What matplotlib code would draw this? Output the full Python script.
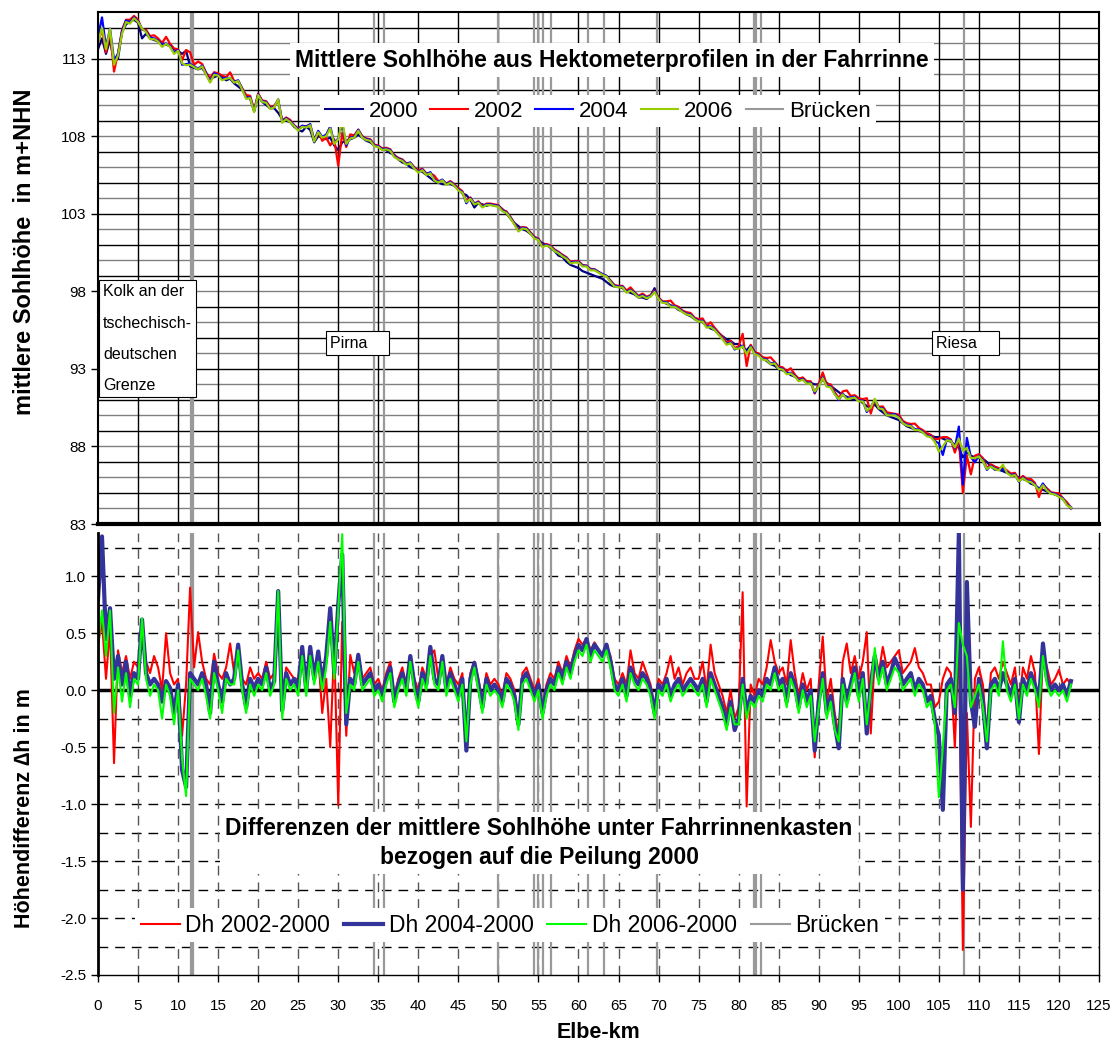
import numpy as np
import matplotlib
matplotlib.use("Agg")
import matplotlib.pyplot as plt
from matplotlib.lines import Line2D

plt.rcParams['font.family'] = ['Liberation Sans', 'DejaVu Sans']
plt.rcParams['axes.unicode_minus'] = False

# Stationierung (km), Schrittweite 0.5 km
km_start = 0.0
km_step = 0.5

# mittlere Sohlhöhe 2000 (m+NHN)
sohle_2000 = [
    113.6, 114.3, 113.3, 114.2, 112.8, 113.0, 114.7, 115.2, 115.4, 115.5,
    115.3, 114.3, 114.6, 114.3, 114.2, 114.1, 114.0, 113.9, 113.8, 113.6,
    113.5, 113.3, 113.5, 112.5, 112.4, 112.3, 112.4, 112.0, 111.7, 111.8,
    111.9, 111.8, 111.6, 111.7, 111.4, 111.2, 111.0, 110.6, 110.4, 109.6,
    110.6, 110.2, 110.0, 109.8, 109.8, 109.5, 109.1, 109.0, 108.9, 108.6,
    108.4, 108.3, 108.6, 108.4, 107.6, 108.0, 107.9, 107.8, 107.9, 107.4,
    107.1, 107.6, 107.7, 107.8, 107.9, 108.1, 107.9, 107.7, 107.6, 107.4,
    107.3, 107.2, 107.1, 106.9, 106.8, 106.5, 106.3, 106.2, 106.0, 105.9,
    105.8, 105.7, 105.5, 105.3, 105.1, 105.0, 104.9, 104.9, 104.9, 104.8,
    104.6, 104.3, 104.2, 103.9, 103.4, 103.7, 103.6, 103.5, 103.6, 103.5,
    103.5, 103.3, 103.0, 102.7, 102.4, 102.2, 102.0, 101.9, 101.7, 101.5,
    101.3, 101.1, 101.0, 100.8, 100.6, 100.3, 100.2, 99.9, 99.7, 99.6,
    99.5, 99.3, 99.2, 99.1, 99.0, 98.9, 98.8, 98.6, 98.4, 98.3,
    98.3, 98.2, 98.0, 97.9, 97.8, 97.6, 97.6, 97.5, 97.7, 98.2,
    97.5, 97.3, 97.2, 97.1, 97.0, 96.8, 96.7, 96.5, 96.4, 96.2,
    96.1, 96.0, 95.8, 95.6, 95.5, 95.3, 95.1, 94.9, 94.8, 94.6,
    94.6, 94.4, 94.2, 94.5, 94.1, 93.9, 93.7, 93.5, 93.3, 93.2,
    93.0, 92.9, 92.8, 92.6, 92.5, 92.4, 92.3, 92.2, 92.1, 92.0,
    92.0, 92.3, 92.1, 91.9, 91.7, 91.5, 91.3, 91.2, 91.1, 91.0,
    91.0, 90.8, 90.6, 90.5, 90.7, 90.4, 90.2, 90.0, 89.9, 89.8,
    89.7, 89.5, 89.3, 89.2, 89.1, 89.0, 88.9, 88.8, 88.7, 88.6,
    88.6, 88.5, 88.4, 88.3, 88.1, 87.9, 87.3, 87.6, 87.4, 87.3,
    87.3, 87.2, 87.0, 86.7, 86.5, 86.5, 86.4, 86.3, 86.2, 86.1,
    86.0, 85.9, 85.8, 85.6, 85.5, 85.3, 85.2, 85.1, 85.0, 84.9,
    84.8, 84.6, 84.3, 84.0,
]

# Differenzen zur Peilung 2000 (m)
dh_2002 = [
    0.40, 0.60, 0.10, 0.55, -0.64, 0.35, 0.15, 0.30, 0.10, 0.25,
    0.20, 0.55, 0.25, 0.15, 0.30, 0.20, 0.00, 0.50, 0.15, 0.05,
    0.10, -0.40, 0.05, 0.90, 0.20, 0.51, 0.25, 0.10, 0.05, 0.32,
    0.15, 0.10, 0.20, 0.41, 0.15, 0.35, 0.10, 0.05, 0.20, 0.10,
    0.15, 0.10, 0.25, 0.10, 0.15, 0.80, -0.10, 0.20, 0.15, 0.10,
    0.10, 0.35, 0.05, 0.30, 0.15, 0.30, -0.20, 0.10, -0.50, 0.40,
    -1.01, 0.60, -0.40, 0.31, 0.15, 0.32, 0.10, 0.15, 0.20, 0.05,
    0.10, 0.00, 0.15, 0.25, -0.05, 0.10, 0.20, 0.05, 0.29, 0.10,
    0.00, 0.20, 0.10, 0.30, 0.35, 0.10, 0.25, 0.05, 0.20, 0.10,
    0.05, 0.15, -0.40, 0.15, 0.25, 0.10, -0.10, 0.15, 0.05, 0.10,
    0.05, -0.05, 0.15, 0.10, 0.00, -0.25, 0.15, 0.20, 0.10, 0.00,
    0.10, -0.15, 0.05, 0.15, 0.10, 0.25, 0.15, 0.30, 0.20, 0.35,
    0.45, 0.40, 0.45, 0.35, 0.42, 0.35, 0.30, 0.38, 0.30, 0.10,
    0.05, 0.15, 0.05, 0.35, 0.15, 0.10, 0.25, 0.15, 0.05, -0.15,
    0.10, 0.05, 0.15, 0.30, 0.10, 0.20, 0.05, 0.15, 0.20, 0.10,
    0.10, 0.25, 0.00, 0.40, 0.15, 0.05, -0.05, -0.20, 0.00, -0.25,
    -0.15, 0.86, -1.02, 0.05, -0.05, 0.10, 0.05, 0.20, 0.44, 0.25,
    0.15, 0.20, 0.05, 0.44, 0.15, -0.05, 0.15, 0.00, 0.10, -0.59,
    0.05, 0.47, -0.10, 0.10, -0.20, -0.40, 0.25, 0.41, 0.15, 0.30,
    0.10, 0.25, 0.51, -0.38, 0.30, 0.15, 0.38, 0.20, 0.25, 0.30,
    0.35, 0.15, 0.20, 0.25, 0.37, 0.20, 0.15, 0.05, 0.05, -0.15,
    -0.10, 0.10, 0.20, 0.15, -0.50, 0.50, -2.28, -0.20, -1.20, 0.10,
    0.20, 0.05, -0.40, 0.15, 0.20, 0.10, 0.25, 0.15, 0.05, 0.20,
    -0.15, 0.20, 0.10, 0.30, 0.15, -0.56, 0.35, 0.20, 0.05, 0.10,
    0.18, 0.05, 0.10, 0.05,
]

dh_2004 = [
    0.80, 1.35, 0.45, 0.72, 0.10, 0.30, 0.05, 0.25, -0.05, 0.15,
    0.10, 0.62, 0.15, 0.05, 0.10, 0.05, -0.10, 0.08, 0.02, -0.20,
    0.05, -0.70, -0.85, 0.15, 0.10, 0.05, 0.15, 0.05, -0.20, 0.25,
    0.05, -0.10, 0.15, 0.05, 0.10, 0.40, 0.05, -0.15, 0.10, 0.02,
    0.10, 0.05, 0.20, 0.00, 0.08, 0.87, -0.18, 0.15, 0.05, 0.10,
    0.02, 0.38, 0.00, 0.38, 0.10, 0.34, 0.05, 0.30, 0.72, 0.15,
    0.75, 1.19, -0.30, 0.10, 0.05, 0.31, 0.05, 0.10, 0.15, 0.00,
    0.05, -0.05, 0.10, 0.20, -0.10, 0.05, 0.15, 0.00, 0.30, 0.05,
    -0.10, 0.15, 0.05, 0.38, 0.10, 0.05, 0.30, 0.00, 0.15, 0.05,
    -0.05, 0.10, -0.53, 0.10, 0.24, 0.05, -0.15, 0.10, 0.00, 0.05,
    0.00, -0.10, 0.10, 0.05, -0.05, -0.30, 0.10, 0.15, 0.05, -0.05,
    0.05, -0.20, 0.00, 0.10, 0.05, 0.20, 0.10, 0.25, 0.15, 0.30,
    0.40, 0.35, 0.45, 0.30, 0.40, 0.35, 0.30, 0.40, 0.25, 0.05,
    0.00, 0.10, -0.05, 0.20, 0.10, 0.05, 0.15, 0.10, 0.00, -0.20,
    0.05, 0.00, 0.10, -0.05, 0.05, 0.10, 0.00, 0.05, 0.10, 0.05,
    0.00, 0.10, -0.10, 0.15, 0.05, -0.05, -0.15, -0.30, -0.10, -0.35,
    -0.25, 0.10, -0.20, -0.05, -0.10, 0.00, -0.05, 0.10, 0.05, 0.20,
    0.05, 0.10, -0.10, 0.15, 0.05, -0.15, 0.05, -0.10, 0.00, -0.53,
    -0.10, 0.15, -0.20, -0.05, -0.30, -0.51, 0.10, -0.10, 0.05, 0.20,
    -0.05, 0.15, -0.38, 0.05, 0.30, 0.10, 0.25, 0.05, 0.15, 0.28,
    0.20, 0.05, 0.10, 0.15, 0.00, 0.10, 0.05, -0.10, -0.05, -0.26,
    -0.40, -1.05, 0.05, 0.10, -0.20, 1.38, -1.75, 0.95, -0.10, -0.32,
    0.10, -0.10, -0.51, 0.05, 0.10, 0.00, 0.15, 0.05, -0.05, 0.10,
    -0.28, 0.10, 0.00, 0.15, 0.05, -0.10, 0.41, 0.10, 0.00, 0.05,
    0.00, 0.05, -0.05, 0.08,
]

dh_2006 = [
    0.40, 0.70, 0.30, 0.70, -0.20, 0.20, -0.10, 0.15, -0.15, 0.10,
    0.05, 0.63, 0.10, -0.05, 0.05, 0.00, -0.25, 0.05, -0.05, -0.30,
    0.00, -0.60, -0.93, 0.10, 0.05, 0.00, 0.10, -0.05, -0.25, 0.15,
    0.00, -0.20, 0.10, 0.05, 0.05, 0.35, 0.00, -0.20, 0.05, -0.05,
    0.05, 0.00, 0.15, -0.05, 0.05, 0.87, -0.25, 0.10, 0.00, 0.05,
    -0.05, 0.30, -0.05, 0.30, 0.05, 0.25, 0.00, 0.20, 0.60, 0.10,
    0.70, 1.37, -0.20, 0.05, 0.00, 0.25, 0.00, 0.05, 0.10, -0.05,
    0.00, -0.10, 0.05, 0.15, -0.15, 0.00, 0.10, -0.05, 0.25, 0.00,
    -0.15, 0.10, 0.00, 0.30, 0.05, 0.00, 0.25, -0.05, 0.10, 0.00,
    -0.10, 0.05, -0.45, 0.05, 0.20, 0.00, -0.20, 0.05, -0.05, 0.00,
    -0.05, -0.15, 0.05, 0.00, -0.10, -0.35, 0.05, 0.10, 0.00, -0.10,
    0.00, -0.25, -0.05, 0.05, 0.00, 0.15, 0.05, 0.20, 0.10, 0.25,
    0.35, 0.30, 0.40, 0.25, 0.35, 0.30, 0.25, 0.35, 0.20, 0.00,
    -0.05, 0.05, -0.10, 0.15, 0.05, 0.00, 0.10, 0.05, -0.05, -0.25,
    0.00, -0.05, 0.05, -0.10, 0.00, 0.05, -0.05, 0.00, 0.05, 0.00,
    -0.05, 0.05, -0.15, 0.10, 0.00, -0.10, -0.20, -0.35, -0.15, -0.30,
    -0.30, 0.05, -0.25, -0.10, -0.15, -0.05, -0.10, 0.05, 0.00, 0.15,
    0.00, 0.05, -0.15, 0.10, 0.00, -0.20, 0.00, -0.15, -0.05, -0.45,
    -0.15, 0.10, -0.25, -0.10, -0.35, -0.45, 0.05, -0.15, 0.00, 0.15,
    -0.10, 0.10, -0.30, 0.00, 0.37, 0.05, 0.20, 0.00, 0.10, 0.20,
    0.15, 0.00, 0.05, 0.10, -0.05, 0.05, 0.00, -0.15, -0.10, -0.30,
    -0.94, -0.50, 0.00, 0.05, -0.15, 0.59, 0.40, 0.30, -0.15, -0.05,
    0.05, -0.15, -0.45, 0.00, 0.05, -0.05, 0.43, 0.00, -0.10, 0.05,
    -0.25, 0.05, -0.05, 0.10, 0.00, -0.15, 0.30, 0.05, -0.05, 0.00,
    -0.05, 0.00, -0.10, 0.05,
]

# Brücken (Elbe-km)
bruecken_km = [11.6, 11.85, 34.5, 35.7, 50.0, 54.5, 55.0, 55.6, 56.6,
               61.2, 63.2, 69.8, 81.9, 82.2, 82.8, 108.2]

km = km_start + km_step * np.arange(len(sohle_2000))
s2000 = np.array(sohle_2000)
s2002 = s2000 + np.array(dh_2002)
s2004 = s2000 + np.array(dh_2004)
s2006 = s2000 + np.array(dh_2006)

W, H = 1116, 1048
fig = plt.figure(figsize=(W / 100, H / 100), dpi=100)
fig.patch.set_facecolor('white')

def box(x0, y0, x1, y1):
    return [x0 / W, 1 - y1 / H, (x1 - x0) / W, (y1 - y0) / H]

ax1 = fig.add_axes(box(98, 12, 1099, 524))
ax2 = fig.add_axes(box(98, 533, 1099, 975))

grau = '#999999'

# ---------- oben: Sohlhöhen ----------
ax1.set_xlim(0, 125)
ax1.set_ylim(83, 116)
for v in range(84, 116):
    ax1.axhline(v, color='black' if v % 2 else '#808080', lw=1, zorder=0)
for x in range(5, 125, 5):
    ax1.axvline(x, color='black', lw=1, zorder=0)
for b in bruecken_km:
    ax1.axvline(b, color=grau, lw=1.6, zorder=1)

ax1.plot(km, s2000, color='#000080', lw=1.6, zorder=2)
ax1.plot(km, s2002, color='#ff0000', lw=1.6, zorder=2)
ax1.plot(km, s2004, color='#0000ff', lw=1.6, zorder=2)
ax1.plot(km, s2006, color='#99cc00', lw=1.6, zorder=2)

ax1.set_yticks(range(83, 114, 5))
ax1.set_xticks([])
ax1.tick_params(axis='y', labelsize=11, length=5, width=1)
for s in ['left', 'top', 'right']:
    ax1.spines[s].set_linewidth(1.5)
ax1.spines['bottom'].set_linewidth(3)

ax1.text(0.5135, 0.906, 'Mittlere Sohlhöhe aus Hektometerprofilen in der Fahrrinne',
         transform=ax1.transAxes, ha='center', va='center', fontsize=16.5,
         fontweight='bold', zorder=5,
         bbox=dict(facecolor='white', edgecolor='none', pad=4))

h_top = [Line2D([], [], color='#000080', lw=1.5),
         Line2D([], [], color='#ff0000', lw=1.5),
         Line2D([], [], color='#0000ff', lw=1.5),
         Line2D([], [], color='#99cc00', lw=1.5),
         Line2D([], [], color=grau, lw=1.5)]
leg1 = ax1.legend(h_top, ['2000', '2002', '2004', '2006', 'Brücken'],
                  loc='center', bbox_to_anchor=(0.4995, 0.8066), ncol=5,
                  frameon=True, fancybox=False, edgecolor='none',
                  framealpha=1, handlelength=1.7, handletextpad=0.25,
                  columnspacing=0.55, borderpad=0.25, fontsize=16)
leg1.set_zorder(5)

txt_kw = dict(transform=ax1.transAxes, fontsize=11.5, zorder=5,
              bbox=dict(facecolor='white', edgecolor='black', lw=0.8, pad=3))
ax1.text(0.005, 0.468, 'Kolk an der\ntschechisch-\ndeutschen\nGrenze',
         ha='left', va='top', linespacing=2.35, **txt_kw)
ax1.text(0.2317, 0.3535, 'Pirna    ', ha='left', va='center', **txt_kw)
ax1.text(0.8376, 0.3535, 'Riesa    ', ha='left', va='center', **txt_kw)

# ---------- unten: Differenzen ----------
ax2.set_xlim(0, 125)
ax2.set_ylim(-2.5, 1.38)
for v in np.arange(-2.25, 1.3, 0.25):
    if abs(v) > 1e-9:
        ax2.axhline(v, color='black', lw=1, ls=(0, (7, 5)), zorder=0)
for x in range(5, 125, 5):
    ax2.axvline(x, color='#555555', lw=1, ls=(0, (7, 5)), zorder=0)
for b in bruecken_km:
    ax2.axvline(b, color=grau, lw=1.6, zorder=1)
ax2.axhline(0, color='black', lw=2.5, zorder=1.5)

ax2.plot(km, dh_2002, color='#ff0000', lw=1.5, zorder=2)
ax2.plot(km, dh_2004, color='#333399', lw=3, zorder=2.1)
ax2.plot(km, dh_2006, color='#00ff00', lw=1.5, zorder=2.2)

ax2.set_yticks(np.arange(-2.5, 1.01, 0.5))
ax2.set_yticklabels(['%.1f' % v for v in np.arange(-2.5, 1.01, 0.5)])
ax2.set_xticks(range(0, 126, 5))
ax2.tick_params(labelsize=11, length=5, width=1)
ax2.tick_params(axis='x', pad=12)
ax2.spines['top'].set_visible(False)
ax2.spines['left'].set_linewidth(2)
ax2.spines['right'].set_linewidth(1)
ax2.spines['bottom'].set_linewidth(1)

ax2.text(0.4406, 0.2986,
         'Differenzen der mittlere Sohlhöhe unter Fahrrinnenkasten\nbezogen auf die Peilung 2000',
         transform=ax2.transAxes, ha='center', va='center', fontsize=16.5,
         fontweight='bold', linespacing=1.3, zorder=5,
         bbox=dict(facecolor='white', edgecolor='none', pad=4))

h_bot = [Line2D([], [], color='#ff0000', lw=1.5),
         Line2D([], [], color='#333399', lw=3),
         Line2D([], [], color='#00ff00', lw=1.5),
         Line2D([], [], color=grau, lw=1.5)]
leg2 = ax2.legend(h_bot, ['Dh 2002-2000', 'Dh 2004-2000', 'Dh 2006-2000', 'Brücken'],
                  loc='center', bbox_to_anchor=(0.4116, 0.113), ncol=4,
                  frameon=True, fancybox=False, edgecolor='none', framealpha=1,
                  handlelength=1.7, handletextpad=0.25, columnspacing=0.6,
                  borderpad=0.25, fontsize=16.5)
leg2.set_zorder(5)

# Achsentitel
fig.text(25 / W, 1 - 252 / H, 'mittlere Sohlhöhe  in m+NHN', rotation=90,
         ha='center', va='center', fontsize=17, fontweight='bold')
fig.text(25 / W, 1 - 808 / H, 'Höhendifferenz \u2206h in m', rotation=90,
         ha='center', va='center', fontsize=15.5, fontweight='bold')
fig.text(598 / W, 1 - 1033 / H, 'Elbe-km', ha='center', va='center',
         fontsize=15.5, fontweight='bold')

fig.savefig('out.png', dpi=100, facecolor='white')
